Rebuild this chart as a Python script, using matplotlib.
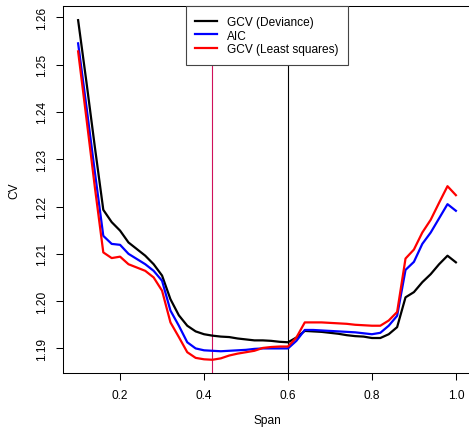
import matplotlib
matplotlib.use("Agg")
import matplotlib.pyplot as plt

plt.rcParams['font.family'] = ['Liberation Sans', 'DejaVu Sans']

# span values and CV curves
span = [0.10, 0.12, 0.14, 0.16, 0.18, 0.20, 0.22, 0.24, 0.26, 0.28,
        0.30, 0.32, 0.34, 0.36, 0.38, 0.40, 0.42, 0.44, 0.46, 0.48,
        0.50, 0.52, 0.54, 0.56, 0.58, 0.60, 0.62, 0.64, 0.66, 0.68,
        0.70, 0.72, 0.74, 0.76, 0.78, 0.80, 0.82, 0.84, 0.86, 0.88,
        0.90, 0.92, 0.94, 0.96, 0.98, 1.00]

gcv_dev = [1.2594, 1.2462, 1.2325, 1.2193, 1.2167, 1.2149, 1.2124, 1.2110, 1.2096, 1.2078,
           1.2054, 1.2004, 1.1970, 1.1948, 1.1936, 1.1930, 1.1927, 1.1925, 1.1924, 1.1921,
           1.1919, 1.1917, 1.1917, 1.1916, 1.1914, 1.1913, 1.1923, 1.1937, 1.1936, 1.1935,
           1.1933, 1.1931, 1.1928, 1.1926, 1.1925, 1.1922, 1.1922, 1.1930, 1.1945, 1.2008,
           1.2019, 1.2040, 1.2057, 1.2078, 1.2096, 1.2082]

aic = [1.2545, 1.2410, 1.2272, 1.2138, 1.2121, 1.2119, 1.2100, 1.2089, 1.2078, 1.2064,
       1.2043, 1.1980, 1.1948, 1.1913, 1.1900, 1.1896, 1.1895, 1.1894, 1.1895, 1.1896,
       1.1897, 1.1899, 1.1900, 1.1900, 1.1900, 1.1900, 1.1916, 1.1939, 1.1939, 1.1938,
       1.1937, 1.1936, 1.1935, 1.1934, 1.1932, 1.1930, 1.1933, 1.1948, 1.1969, 1.2066,
       1.2083, 1.2121, 1.2145, 1.2175, 1.2205, 1.2191]

gcv_ls = [1.2528, 1.2385, 1.2240, 1.2103, 1.2091, 1.2094, 1.2078, 1.2071, 1.2064, 1.2050,
          1.2022, 1.1955, 1.1924, 1.1892, 1.1880, 1.1877, 1.1876, 1.1879, 1.1885, 1.1889,
          1.1892, 1.1895, 1.1901, 1.1903, 1.1904, 1.1904, 1.1923, 1.1955, 1.1955, 1.1955,
          1.1954, 1.1953, 1.1952, 1.1950, 1.1949, 1.1948, 1.1948, 1.1959, 1.1977, 1.2090,
          1.2109, 1.2145, 1.2172, 1.2208, 1.2243, 1.2224]

best_ls = 0.42
best_dev = 0.60

xticks = [0.2, 0.4, 0.6, 0.8, 1.0]
yticks = [1.19, 1.20, 1.21, 1.22, 1.23, 1.24, 1.25, 1.26]

fig = plt.figure(figsize=(4.69, 4.31), dpi=100)
# plot region runs a little past the right edge of the picture
ax = fig.add_axes([63 / 469, 1 - 374.3 / 431, 408 / 469, (374.3 - 7.3) / 431])

ax.axvline(best_ls, color='#d0105a', lw=0.8)
ax.axvline(best_dev, color='black', lw=0.8)

ax.plot(span, gcv_dev, color='black', lw=1.6, label='GCV (Deviance)')
ax.plot(span, aic, color='blue', lw=1.6, label='AIC')
ax.plot(span, gcv_ls, color='red', lw=1.6, label='GCV (Least squares)')

ax.set_xlim(0.064, 1.036)
ax.set_ylim(1.18474, 1.26233)
ax.set_xticks(xticks)
ax.set_xticklabels(['0.2', '0.4', '0.6', '0.8', '1.0'])
ax.set_yticks(yticks)
ax.set_yticklabels(['%.2f' % v for v in yticks], rotation=90, va='center')
ax.tick_params(length=5, width=0.75, labelsize=8.6, pad=6)
for s in ax.spines.values():
    s.set_linewidth(0.75)

ax.set_xlabel('Span', fontsize=8.6, labelpad=10)
ax.set_ylabel('CV', fontsize=8.6, labelpad=11)

leg = ax.legend(loc='upper center', bbox_to_anchor=(0.5, 1.0), borderaxespad=0,
                fontsize=8.6, frameon=True, fancybox=False, edgecolor='#444444',
                framealpha=1, handlelength=1.85, handletextpad=0.85,
                labelspacing=0.15, borderpad=0.8)
leg.get_frame().set_linewidth(0.8)

fig.savefig('out.png', dpi=100)
